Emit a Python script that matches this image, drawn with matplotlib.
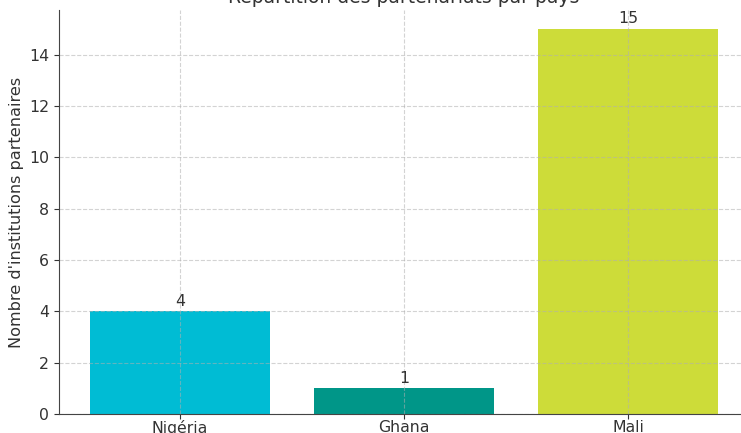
import matplotlib
matplotlib.use('Agg')
import matplotlib.pyplot as plt

pays = ['Nigéria', 'Ghana', 'Mali']
nb_institutions = [4, 1, 15]
couleurs = ['#00bcd4', '#009688', '#cddc39']

fig = plt.figure(figsize=(7.41, 4.33), dpi=100)
# the reference is a crop of a larger figure: axes run past the right/top edge
ax = fig.add_axes([59/741, 19/433, 690/741, 404/433])
bars = ax.bar(pays, nb_institutions, color=couleurs, width=0.8)
ax.bar_label(bars, labels=[str(v) for v in nb_institutions], padding=2, fontsize=11.3, color='#333333')
ax.set_title('Répartition des partenariats par pays', fontsize=13.5, color='#333333', pad=5)
ax.set_ylabel("Nombre d'institutions partenaires", fontsize=11.6, color='#333333')
ax.grid(True, linestyle='--', color='#b0b0b0', alpha=0.55, linewidth=0.8)
ax.spines['top'].set_visible(False)
ax.spines['right'].set_visible(False)
ax.spines['left'].set_color('#444444')
ax.spines['bottom'].set_color('#444444')
ax.tick_params(labelsize=11.3, colors='#333333')
ax.tick_params(axis='x', pad=0.5)
fig.savefig('out.png', dpi=100)
